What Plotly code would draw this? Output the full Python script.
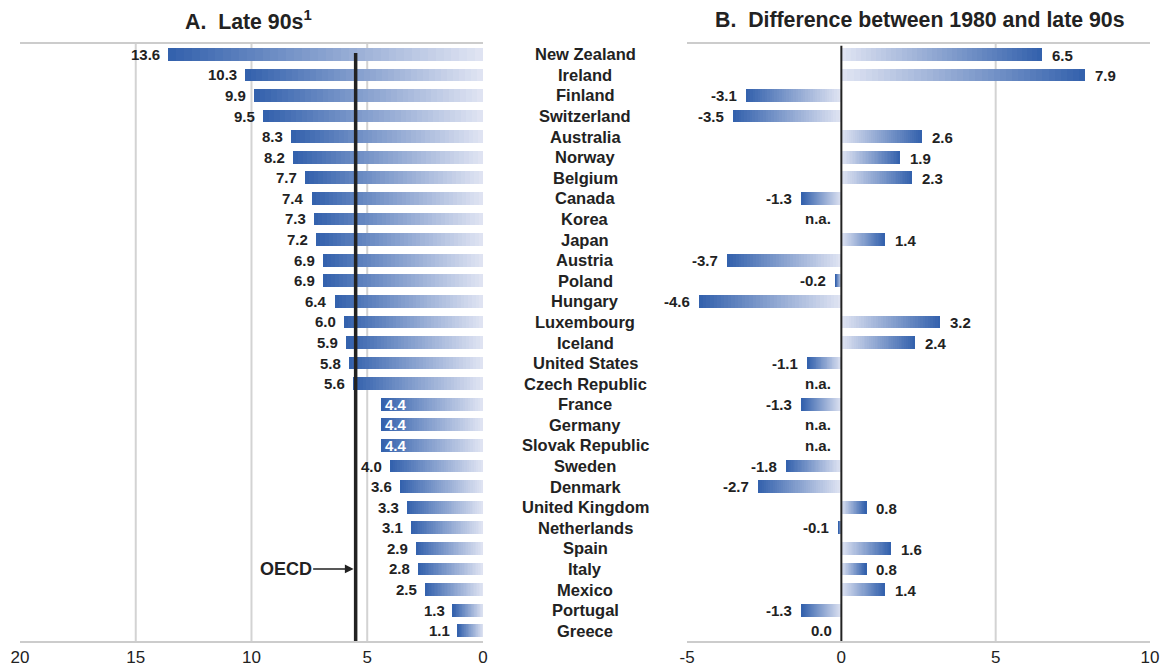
import plotly.graph_objects as go

countries = ["New Zealand", "Ireland", "Finland", "Switzerland", "Australia", "Norway",
             "Belgium", "Canada", "Korea", "Japan", "Austria", "Poland", "Hungary",
             "Luxembourg", "Iceland", "United States", "Czech Republic", "France",
             "Germany", "Slovak Republic", "Sweden", "Denmark", "United Kingdom",
             "Netherlands", "Spain", "Italy", "Mexico", "Portugal", "Greece"]
late90s = [13.6, 10.3, 9.9, 9.5, 8.3, 8.2, 7.7, 7.4, 7.3, 7.2, 6.9, 6.9, 6.4, 6.0, 5.9,
           5.8, 5.6, 4.4, 4.4, 4.4, 4.0, 3.6, 3.3, 3.1, 2.9, 2.8, 2.5, 1.3, 1.1]
diff = [6.5, 7.9, -3.1, -3.5, 2.6, 1.9, 2.3, -1.3, None, 1.4, -3.7, -0.2, -4.6, 3.2, 2.4,
        -1.1, None, -1.3, None, None, -1.8, -2.7, 0.8, -0.1, 1.6, 0.8, 1.4, -1.3, 0.0]
white_label_countries = ["France", "Germany", "Slovak Republic"]
oecd_avg = 5.5
left_ticks = [0, 5, 10, 15, 20]
left_ticktext = ["0", "5", "10", "15", "20"]
right_ticks = [-5, 0, 5, 10]
right_ticktext = ["-5", "0", "5", "10"]

FONT = "Liberation Sans, Arial, Helvetica, sans-serif"
DARK = (50, 96, 172)
LIGHT = (225, 229, 243)
N = 40


def mix(f):
    c = [round(LIGHT[i] + (DARK[i] - LIGHT[i]) * f) for i in range(3)]
    return "rgb(%d,%d,%d)" % tuple(c)


def seg_widths(vals, k):
    # segment k spans from k/N of the bar; overlaps the next to hide seams
    out = []
    for v in vals:
        start = v * k / N
        w = v * 1.6 / N
        if abs(start + w) > abs(v):
            w = v - start
        out.append(w)
    return out


fig = go.Figure()
bw = 0.62
dv = [(v if v is not None else 0) for v in diff]
for k in range(N):
    col = mix((k + 0.5) / N)
    fig.add_trace(go.Bar(
        y=countries, x=seg_widths(late90s, k), base=[v * k / N for v in late90s],
        orientation="h", width=bw, marker=dict(color=col, line=dict(width=0)),
        xaxis="x", yaxis="y", showlegend=False, hoverinfo="skip"))
    fig.add_trace(go.Bar(
        y=countries, x=seg_widths(dv, k), base=[v * k / N for v in dv],
        orientation="h", width=bw, marker=dict(color=col, line=dict(width=0)),
        xaxis="x2", yaxis="y2", showlegend=False, hoverinfo="skip"))

annotations = []
lab_font = dict(family=FONT, size=15, color="#222222")
for c, v in zip(countries, late90s):
    if c in white_label_countries:
        annotations.append(dict(x=v, y=c, xref="x", yref="y", text="<b>%.1f</b>" % v,
                                showarrow=False, xanchor="left", xshift=2,
                                font=dict(family=FONT, size=15, color="white")))
    else:
        annotations.append(dict(x=v, y=c, xref="x", yref="y", text="<b>%.1f</b>" % v,
                                showarrow=False, xanchor="right", xshift=-6, font=lab_font))
for c, v in zip(countries, diff):
    if v is None:
        annotations.append(dict(x=0, y=c, xref="x2", yref="y2", text="<b>n.a.</b>",
                                showarrow=False, xanchor="right", xshift=-8, font=lab_font))
    elif v > 0:
        annotations.append(dict(x=v, y=c, xref="x2", yref="y2", text="<b>%.1f</b>" % v,
                                showarrow=False, xanchor="left", xshift=8, yshift=-1, font=lab_font))
    else:
        annotations.append(dict(x=v, y=c, xref="x2", yref="y2", text="<b>%.1f</b>" % v,
                                showarrow=False, xanchor="right", xshift=-7, font=lab_font))

# country names in the middle
for c in countries:
    annotations.append(dict(x=0.5, y=c, xref="paper", yref="y", text="<b>%s</b>" % c,
                            showarrow=False, xanchor="center",
                            font=dict(family=FONT, size=16.5, color="#222222")))

# titles
annotations.append(dict(x=0.2018, y=1.040, xref="paper", yref="paper", yanchor="middle",
                        xanchor="center",
                        text="<b>A.  Late 90s<sup>1</sup></b>", showarrow=False,
                        font=dict(family=FONT, size=21.3, color="#222222")))
annotations.append(dict(x=0.7965, y=1.040, xref="paper", yref="paper", yanchor="middle",
                        xanchor="center",
                        text="<b>B.  Difference between 1980 and late 90s</b>", showarrow=False,
                        font=dict(family=FONT, size=21.3, color="#222222")))
# OECD arrow
annotations.append(dict(x=oecd_avg, y="Italy", xref="x", yref="y", text="<b>OECD</b>",
                        showarrow=True, arrowhead=2, arrowsize=1.1, arrowwidth=1.6,
                        arrowcolor="#222222", ax=-70, ay=0, standoff=2,
                        font=dict(family=FONT, size=18, color="#222222")))

shapes = []
for g in [5, 10, 15]:
    shapes.append(dict(type="line", xref="x", yref="paper", x0=g, x1=g, y0=0, y1=1,
                       line=dict(color="#d3d3d3", width=2), layer="below"))
shapes.append(dict(type="line", xref="x2", yref="paper", x0=5, x1=5, y0=0, y1=1,
                   line=dict(color="#d3d3d3", width=2), layer="below"))
shapes.append(dict(type="line", xref="x2", yref="paper", x0=0, x1=0, y0=0, y1=0.997,
                   line=dict(color="#222222", width=2)))
shapes.append(dict(type="line", xref="x", yref="paper", x0=oecd_avg, x1=oecd_avg, y0=0, y1=0.985,
                   line=dict(color="#222222", width=3.5)))

axis_common = dict(showgrid=False, zeroline=False, showline=True, mirror=True,
                   linecolor="#cccccc", linewidth=2, ticks="", automargin=False,
                   tickfont=dict(family=FONT, size=17, color="#222222"))
fig.update_layout(
    width=1164, height=669, barmode="overlay", bargap=0,
    plot_bgcolor="white", paper_bgcolor="white",
    margin=dict(l=20, r=14, t=44, b=28, autoexpand=False),
    xaxis=dict(domain=[0.0, 0.4097], range=[20, 0], tickvals=left_ticks,
               ticktext=left_ticktext, **axis_common),
    xaxis2=dict(domain=[0.5903, 1.0], range=[-5, 10], tickvals=right_ticks,
                ticktext=right_ticktext, **axis_common),
    yaxis=dict(anchor="x", categoryorder="array", categoryarray=countries,
               range=[len(countries) - 0.5, -0.5], showticklabels=False, showgrid=False,
               zeroline=False, showline=False, automargin=False),
    yaxis2=dict(anchor="x2", categoryorder="array", categoryarray=countries,
                range=[len(countries) - 0.5, -0.5], showticklabels=False, showgrid=False,
                zeroline=False, showline=False, automargin=False),
    annotations=annotations, shapes=shapes,
)
fig.write_html("out.html", config={"displayModeBar": False},
               post_script="document.body.style.margin='0';")
